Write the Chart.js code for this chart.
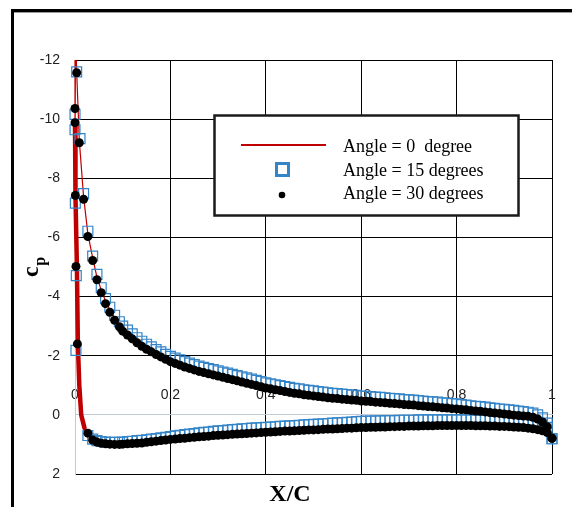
<!DOCTYPE html>
<html>
<head>
<meta charset="utf-8">
<script src="https://cdn.jsdelivr.net/npm/chart.js@4.4.1/dist/chart.umd.min.js"></script>
<style>
  html, body { margin: 0; padding: 0; background: #fff; }
  #wrap { width: 572px; height: 507px; position: relative; }
</style>
</head>
<body>
<div id="wrap"><canvas id="cpChart"></canvas></div>
<script>
// chord stations shared by the three runs (x/c), upper and lower surface
const stations = [0.018, 0.027, 0.037, 0.046, 0.055, 0.064, 0.073, 0.083, 0.093,
  0.10, 0.11, 0.12, 0.13, 0.14, 0.15, 0.16, 0.17, 0.18, 0.19,
  0.20, 0.21, 0.22, 0.23, 0.24, 0.25, 0.26, 0.27, 0.28, 0.29,
  0.30, 0.31, 0.32, 0.33, 0.34, 0.35, 0.36, 0.37, 0.38, 0.39,
  0.40, 0.41, 0.42, 0.43, 0.44, 0.45, 0.46, 0.47, 0.48, 0.49,
  0.50, 0.51, 0.52, 0.53, 0.54, 0.55, 0.56, 0.57, 0.58, 0.59,
  0.60, 0.61, 0.62, 0.63, 0.64, 0.65, 0.66, 0.67, 0.68, 0.69,
  0.70, 0.71, 0.72, 0.73, 0.74, 0.75, 0.76, 0.77, 0.78, 0.79,
  0.80, 0.81, 0.82, 0.83, 0.84, 0.85, 0.86, 0.87, 0.88, 0.89,
  0.90, 0.91, 0.92, 0.93, 0.94, 0.95, 0.96, 0.97, 0.98, 0.99,
  1.00];

// Angle = 0 degree (red line)
const cp0Upper = [-7.38, -6.12, -5.31, -4.66, -4.22, -3.85, -3.56, -3.29, -3.07,
  -2.92, -2.79, -2.66, -2.53, -2.41, -2.31, -2.22, -2.13, -2.05, -1.97,
  -1.89, -1.83, -1.77, -1.71, -1.66, -1.61, -1.56, -1.52, -1.48, -1.44,
  -1.40, -1.36, -1.32, -1.28, -1.24, -1.20, -1.16, -1.12, -1.08, -1.04,
  -1.00, -0.97, -0.94, -0.91, -0.88, -0.85, -0.82, -0.80, -0.77, -0.75,
  -0.73, -0.71, -0.69, -0.67, -0.65, -0.64, -0.62, -0.61, -0.59, -0.58,
  -0.56, -0.55, -0.54, -0.52, -0.51, -0.50, -0.48, -0.47, -0.46, -0.44,
  -0.43, -0.42, -0.40, -0.39, -0.37, -0.36, -0.35, -0.33, -0.32, -0.30,
  -0.29, -0.27, -0.26, -0.24, -0.22, -0.21, -0.19, -0.17, -0.15, -0.14,
  -0.12, -0.10, -0.08, -0.07, -0.05, -0.04, -0.01, 0.05, 0.16, 0.34,
  0.80];
const cp0Lower = [null, 0.62, 0.82, 0.88, 0.91, 0.92, 0.93, 0.94, 0.94,
  0.93, 0.92, 0.91, 0.90, 0.88, 0.86, 0.84, 0.82, 0.80, 0.78,
  0.76, 0.75, 0.73, 0.71, 0.69, 0.68, 0.66, 0.65, 0.64, 0.62,
  0.61, 0.60, 0.59, 0.57, 0.56, 0.55, 0.54, 0.53, 0.52, 0.51,
  0.50, 0.49, 0.48, 0.47, 0.46, 0.46, 0.45, 0.44, 0.43, 0.42,
  0.41, 0.40, 0.39, 0.39, 0.38, 0.37, 0.36, 0.36, 0.35, 0.34,
  0.33, 0.33, 0.32, 0.32, 0.31, 0.31, 0.30, 0.30, 0.29, 0.29,
  0.28, 0.28, 0.28, 0.27, 0.27, 0.27, 0.26, 0.26, 0.26, 0.26,
  0.26, 0.26, 0.26, 0.26, 0.27, 0.27, 0.27, 0.28, 0.28, 0.29,
  0.29, 0.30, 0.31, 0.32, 0.33, 0.35, 0.37, 0.40, 0.44, 0.51,
  0.80];
const noseX0 = [0.009, 0.0035, 0.0015, 0, 0, 0.001, 0.004, 0.006, 0.009, 0.013, 0.02];
const noseCp0 = [-9.28, -11.6, -12.8, -10.3, -9.8, -7.4, -5.0, -2.4, -1.0, 0.0, 0.45];

// Angle = 15 degrees (blue squares)
const cp15Upper = [-7.48, -6.21, -5.37, -4.75, -4.30, -3.93, -3.64, -3.37, -3.15,
  -3.00, -2.87, -2.74, -2.61, -2.49, -2.39, -2.30, -2.21, -2.13, -2.05,
  -1.98, -1.92, -1.86, -1.80, -1.75, -1.70, -1.65, -1.61, -1.57, -1.53,
  -1.49, -1.45, -1.41, -1.37, -1.33, -1.29, -1.25, -1.21, -1.17, -1.13,
  -1.08, -1.05, -1.02, -0.99, -0.96, -0.93, -0.90, -0.88, -0.85, -0.83,
  -0.81, -0.79, -0.77, -0.75, -0.73, -0.72, -0.70, -0.69, -0.67, -0.66,
  -0.64, -0.63, -0.62, -0.60, -0.59, -0.58, -0.56, -0.55, -0.54, -0.52,
  -0.51, -0.50, -0.48, -0.47, -0.45, -0.44, -0.43, -0.41, -0.40, -0.38,
  -0.37, -0.35, -0.33, -0.31, -0.29, -0.28, -0.26, -0.24, -0.22, -0.20,
  -0.19, -0.17, -0.15, -0.13, -0.11, -0.09, -0.06, 0.00, 0.10, 0.28,
  0.81];
const cp15Lower = [null, 0.70, 0.82, 0.87, 0.90, 0.92, 0.93, 0.93, 0.93,
  0.92, 0.90, 0.89, 0.87, 0.86, 0.84, 0.82, 0.80, 0.78, 0.76,
  0.73, 0.71, 0.69, 0.67, 0.65, 0.63, 0.61, 0.59, 0.58, 0.56,
  0.54, 0.53, 0.51, 0.50, 0.49, 0.47, 0.46, 0.45, 0.44, 0.43,
  0.42, 0.41, 0.40, 0.39, 0.38, 0.37, 0.36, 0.35, 0.34, 0.33,
  0.32, 0.31, 0.30, 0.29, 0.28, 0.27, 0.26, 0.25, 0.24, 0.23,
  0.22, 0.21, 0.21, 0.20, 0.20, 0.19, 0.19, 0.19, 0.18, 0.18,
  0.18, 0.18, 0.17, 0.17, 0.17, 0.17, 0.17, 0.17, 0.17, 0.17,
  0.17, 0.17, 0.17, 0.17, 0.18, 0.18, 0.18, 0.19, 0.19, 0.20,
  0.20, 0.21, 0.22, 0.23, 0.24, 0.25, 0.27, 0.30, 0.34, 0.42,
  0.81];
const noseX15 = [0.0105, 0.0035, 0, 0, 0.0007, 0.0027, 0.002];
const noseCp15 = [-9.34, -11.6, -10.16, -9.64, -7.16, -4.71, -2.18];

// Angle = 30 degrees (black dots)
const cp30Upper = [-7.29, -6.03, -5.22, -4.57, -4.13, -3.76, -3.47, -3.20, -2.98,
  -2.83, -2.70, -2.57, -2.44, -2.32, -2.22, -2.13, -2.04, -1.96, -1.88,
  -1.80, -1.74, -1.68, -1.62, -1.57, -1.52, -1.47, -1.43, -1.39, -1.35,
  -1.31, -1.27, -1.23, -1.19, -1.15, -1.11, -1.07, -1.03, -0.99, -0.95,
  -0.91, -0.88, -0.85, -0.82, -0.79, -0.76, -0.73, -0.71, -0.68, -0.66,
  -0.64, -0.62, -0.60, -0.58, -0.56, -0.55, -0.53, -0.52, -0.50, -0.49,
  -0.47, -0.46, -0.45, -0.43, -0.42, -0.41, -0.39, -0.38, -0.37, -0.35,
  -0.34, -0.33, -0.31, -0.30, -0.28, -0.27, -0.26, -0.24, -0.23, -0.21,
  -0.20, -0.18, -0.17, -0.15, -0.13, -0.12, -0.10, -0.08, -0.06, -0.05,
  -0.03, -0.01, 0.01, 0.02, 0.04, 0.05, 0.08, 0.14, 0.24, 0.40,
  0.79];
const cp30Lower = [null, 0.62, 0.85, 0.92, 0.96, 0.98, 0.99, 1.00, 1.00,
  0.99, 0.98, 0.97, 0.96, 0.95, 0.93, 0.91, 0.89, 0.87, 0.85,
  0.83, 0.82, 0.80, 0.79, 0.77, 0.76, 0.74, 0.73, 0.72, 0.70,
  0.69, 0.68, 0.67, 0.66, 0.65, 0.64, 0.63, 0.62, 0.61, 0.60,
  0.59, 0.58, 0.57, 0.56, 0.55, 0.55, 0.54, 0.53, 0.52, 0.51,
  0.51, 0.50, 0.49, 0.48, 0.48, 0.47, 0.46, 0.45, 0.45, 0.44,
  0.43, 0.43, 0.42, 0.42, 0.41, 0.41, 0.40, 0.40, 0.39, 0.39,
  0.38, 0.38, 0.38, 0.37, 0.37, 0.37, 0.36, 0.36, 0.36, 0.36,
  0.36, 0.36, 0.36, 0.36, 0.37, 0.37, 0.37, 0.38, 0.38, 0.39,
  0.39, 0.40, 0.41, 0.42, 0.43, 0.45, 0.47, 0.50, 0.54, 0.60,
  0.79];
const noseX30 = [0.009, 0.0035, 0, 0, 0.0007, 0.002, 0.005];
const noseCp30 = [-9.2, -11.57, -10.36, -9.88, -7.42, -5.02, -2.4];

const seriesLabels = ['Angle = 0  degree', 'Angle = 15 degrees', 'Angle = 30 degrees'];

// trailing edge -> upper surface -> nose -> lower surface -> trailing edge
function surfacePoints(upper, noseX, noseCp, lower) {
    const pts = [];
    for (let i = stations.length - 1; i >= 0; i--) {
        if (upper[i] !== null) pts.push({ x: stations[i], y: upper[i] });
    }
    noseX.forEach((x, i) => pts.push({ x: x, y: noseCp[i] }));
    for (let i = 0; i < stations.length; i++) {
        if (lower[i] !== null) pts.push({ x: stations[i], y: lower[i] });
    }
    return pts;
}

const RED = '#c00000';
const BLUE = '#3484c8';
const GRID_LIGHT = '#c3cad6';

// rámik, názvy osí a legenda (kreslené ručne)
const decorPlugin = {
    id: 'decor',
    beforeDraw(chart) {
        const c = chart.ctx;
        c.save();
        c.fillStyle = '#fff';
        c.fillRect(0, 0, chart.width, chart.height);
        c.fillStyle = '#000';
        c.fillRect(11, 9, chart.width - 11, 3);
        c.fillRect(11, 9, 3, chart.height - 9);
        c.fillStyle = '#9a9a9a';
        c.fillRect(14, 12, chart.width - 14, 1);
        c.restore();
    },
    afterDraw(chart) {
        const c = chart.ctx;
        const ds = chart.data.datasets;
        c.save();

        // y title: c with subscript p
        c.translate(38, 277);
        c.rotate(-Math.PI / 2);
        c.fillStyle = '#000';
        c.textBaseline = 'alphabetic';
        c.textAlign = 'left';
        c.font = 'bold 24px "Liberation Serif"';
        c.fillText('c', 0, 0);
        const cw = c.measureText('c').width;
        c.font = 'bold 16px "Liberation Serif"';
        c.fillText('p', cw + 0.5, 7);
        c.setTransform(1, 0, 0, 1, 0, 0);

        // x title
        c.font = 'bold 24px "Liberation Serif"';
        c.textAlign = 'center';
        c.fillText('X/C', 290, 501);

        // legend box
        c.fillStyle = '#fff';
        c.fillRect(214, 115, 305, 101);
        c.strokeStyle = '#1a1a1a';
        c.lineWidth = 2.5;
        c.strokeRect(214.5, 115.5, 304, 100);

        c.strokeStyle = ds[0].borderColor;
        c.lineWidth = 2;
        c.beginPath();
        c.moveTo(241, 145);
        c.lineTo(326, 145);
        c.stroke();

        c.strokeStyle = ds[1].pointBorderColor;
        c.lineWidth = 3;
        c.strokeRect(276.5, 163.5, 12, 12);

        c.fillStyle = ds[2].pointBackgroundColor;
        c.beginPath();
        c.arc(282, 195, 3.3, 0, Math.PI * 2);
        c.fill();

        c.fillStyle = '#000';
        c.font = '18px "Liberation Serif"';
        c.textAlign = 'left';
        const baselines = [152, 175.5, 198.5];
        seriesLabels.forEach((t, i) => c.fillText(t, 343, baselines[i]));
        c.restore();
    }
};

const tickFont = { family: '"Liberation Sans", Arial, sans-serif', size: 14 };

new Chart(document.getElementById('cpChart').getContext('2d'), {
    type: 'scatter',
    data: {
        datasets: [
            {
                label: seriesLabels[0],
                data: surfacePoints(cp0Upper, noseX0, noseCp0, cp0Lower),
                showLine: true,
                borderColor: RED,
                borderWidth: 1.2,
                borderCapStyle: 'round',
                borderJoinStyle: 'round',
                pointRadius: 0,
                order: 3,
                clip: { left: 6, top: 0, right: 6, bottom: 6 },
                segment: {
                    // the dense red trace round the nose looks like a thick band
                    borderWidth: s => (s.p0.parsed.x < 0.015 && s.p1.parsed.y > s.p0.parsed.y && s.p0.parsed.y > -10) ? 4.5 : 1.2
                }
            },
            {
                label: seriesLabels[1],
                data: surfacePoints(cp15Upper, noseX15, noseCp15, cp15Lower),
                pointStyle: 'rect',
                pointRadius: 7,
                pointBorderWidth: 1.2,
                pointBorderColor: BLUE,
                pointBackgroundColor: 'rgba(0,0,0,0)',
                order: 2,
                clip: false
            },
            {
                label: seriesLabels[2],
                data: surfacePoints(cp30Upper, noseX30, noseCp30, cp30Lower),
                pointStyle: 'circle',
                pointRadius: 4.5,
                pointBorderWidth: 0,
                pointBackgroundColor: '#000',
                order: 1,
                clip: false
            }
        ]
    },
    options: {
        responsive: true,
        maintainAspectRatio: false,
        devicePixelRatio: 1,
        animation: false,
        events: [],
        layout: { padding: { left: 0, right: 20, top: 60, bottom: 33 } },
        scales: {
            x: {
                type: 'linear',
                position: { y: 0 },
                min: 0,
                max: 1,
                ticks: {
                    stepSize: 0.2, padding: -28, color: '#222', font: tickFont, maxRotation: 0,
                    callback: v => String(Math.round(v * 10) / 10)
                },
                grid: { color: c => c.tick.value === 0 ? GRID_LIGHT : '#000', lineWidth: 1, drawTicks: false },
                border: { color: GRID_LIGHT, width: 1 }
            },
            y: {
                type: 'linear',
                position: 'left',
                reverse: true,
                min: -12,
                max: 2,
                ticks: { stepSize: 2, padding: 15, color: '#222', font: tickFont },
                grid: { color: c => c.tick.value === 0 ? GRID_LIGHT : '#000', lineWidth: 1, drawTicks: false },
                border: { color: GRID_LIGHT, width: 1 },
                afterFit: s => { s.width = 75; }
            }
        },
        plugins: {
            legend: { display: false },
            tooltip: { enabled: false }
        }
    },
    plugins: [decorPlugin]
});
</script>
</body>
</html>
